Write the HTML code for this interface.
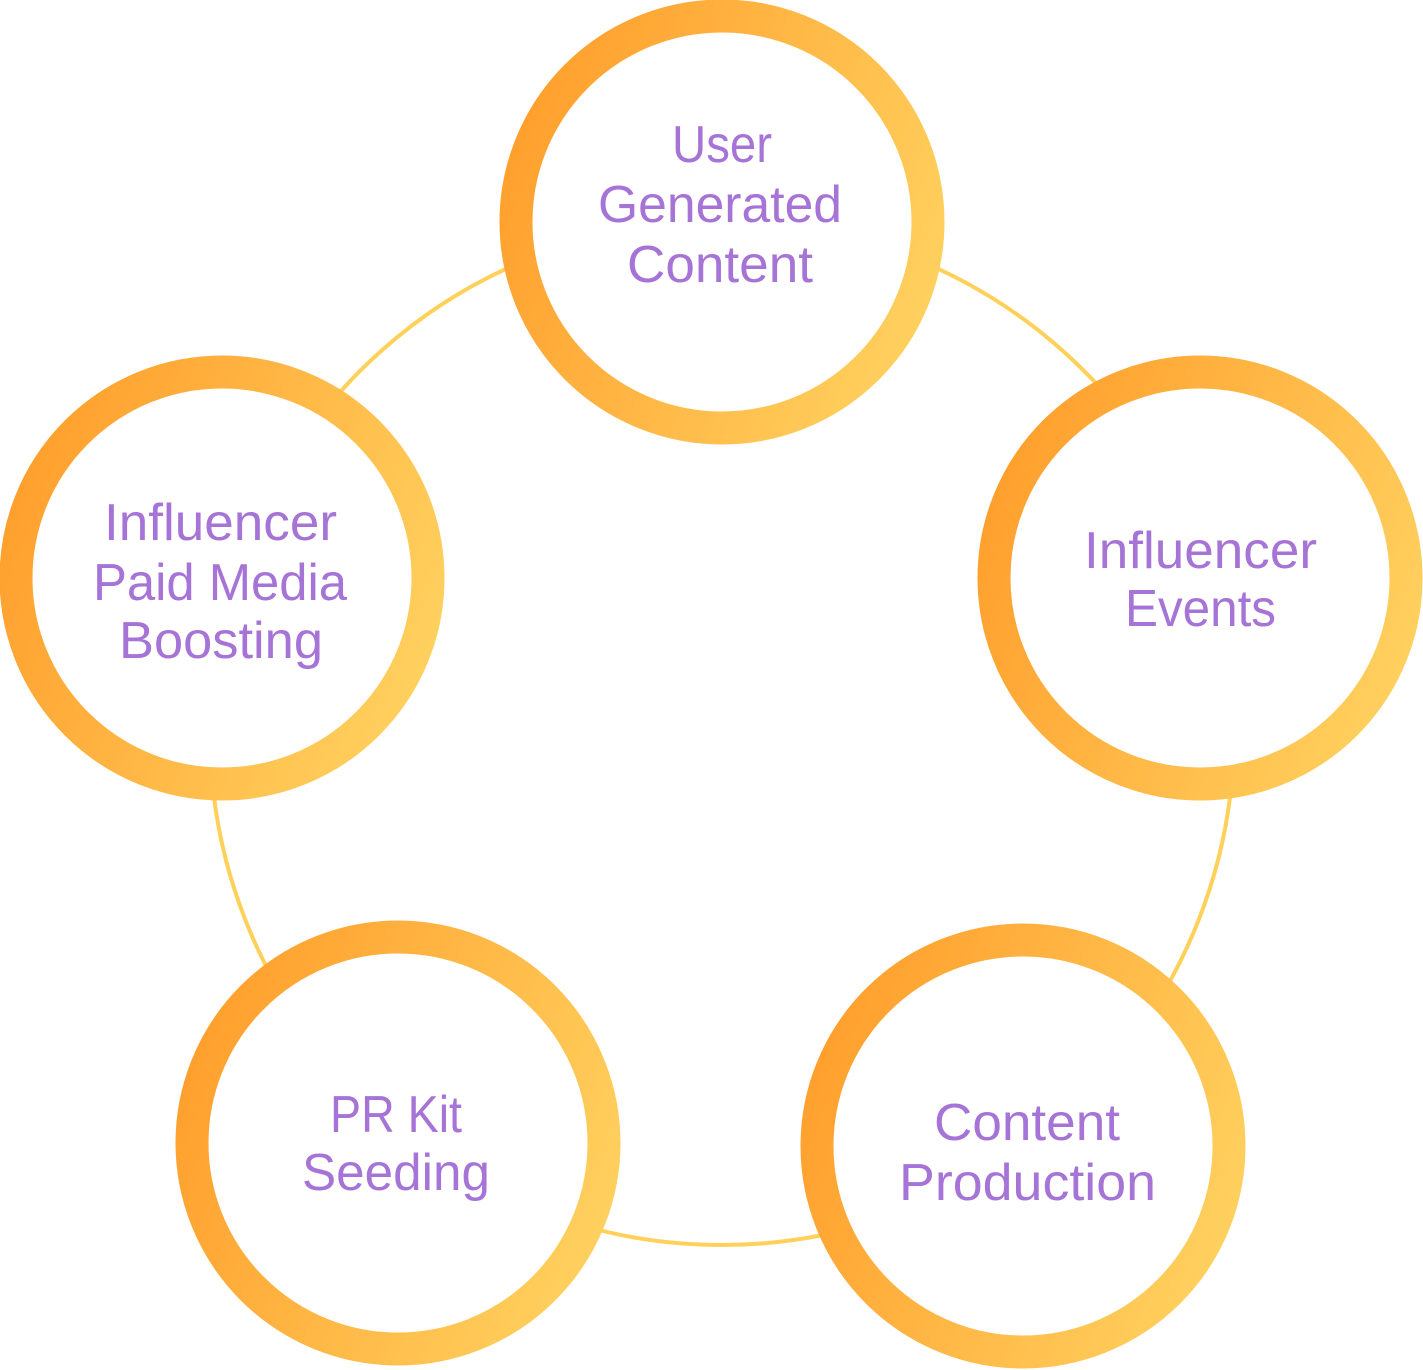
<!DOCTYPE html>
<html><head><style>
html,body{margin:0;padding:0;background:#fff;}
svg{display:block;}
text{font-family:"Liberation Sans",sans-serif;font-size:52px;fill:#A673D6;}
</style></head><body>
<svg width="1423" height="1370" viewBox="0 0 1423 1370" xmlns="http://www.w3.org/2000/svg">
<defs>
<linearGradient id="g" x1="0" y1="0.3" x2="1" y2="0.7">
<stop offset="0" stop-color="#FFA02E"/>
<stop offset="1" stop-color="#FFD05E"/>
</linearGradient>
</defs>
<circle cx="722" cy="733" r="512" fill="none" stroke="#FFD05A" stroke-width="4"/>
<g fill="#fff" stroke="url(#g)" stroke-width="33">
<circle cx="722" cy="222" r="206"/>
<circle cx="1200" cy="578" r="206"/>
<circle cx="222" cy="578" r="206"/>
<circle cx="398" cy="1143" r="206"/>
<circle cx="1023" cy="1146" r="206"/>
</g>
<text x="672" y="162" textLength="100" lengthAdjust="spacingAndGlyphs">User</text>
<text x="598" y="222" textLength="244" lengthAdjust="spacingAndGlyphs">Generated</text>
<text x="627" y="282" textLength="186" lengthAdjust="spacingAndGlyphs">Content</text>
<text x="104" y="540" textLength="233" lengthAdjust="spacingAndGlyphs">Influencer</text>
<text x="93" y="600" textLength="254" lengthAdjust="spacingAndGlyphs">Paid Media</text>
<text x="119" y="658" textLength="204" lengthAdjust="spacingAndGlyphs">Boosting</text>
<text x="1084" y="568" textLength="233" lengthAdjust="spacingAndGlyphs">Influencer</text>
<text x="1125" y="626" textLength="151" lengthAdjust="spacingAndGlyphs">Events</text>
<text x="330" y="1132" textLength="132" lengthAdjust="spacingAndGlyphs">PR Kit</text>
<text x="302" y="1190" textLength="188" lengthAdjust="spacingAndGlyphs">Seeding</text>
<text x="934" y="1140" textLength="186" lengthAdjust="spacingAndGlyphs">Content</text>
<text x="899" y="1200" textLength="257" lengthAdjust="spacingAndGlyphs">Production</text>
</svg>
</body></html>
